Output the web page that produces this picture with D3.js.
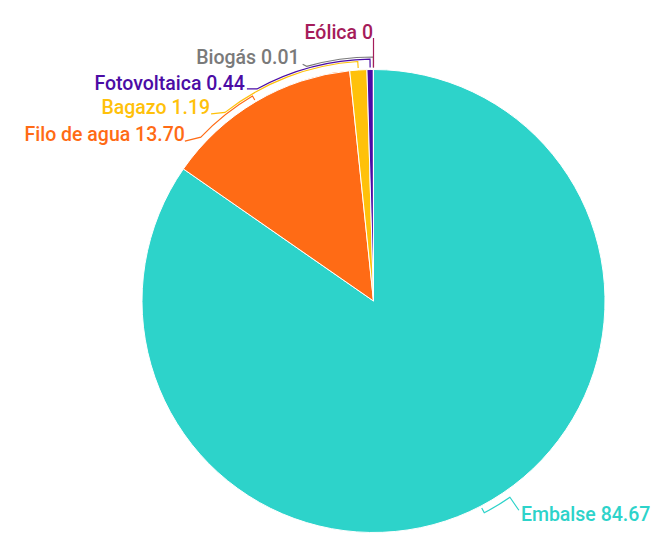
<!DOCTYPE html>
<html><head><meta charset="utf-8">
<script src="https://cdn.jsdelivr.net/npm/d3@7"></script>
<style>html,body{margin:0;padding:0;background:#fff;}svg{display:block;}</style>
</head><body>
<svg id="chart" width="664" height="540"></svg>
<script>
// ---- data ----
const categories = ["Embalse", "Filo de agua", "Bagazo", "Fotovoltaica", "Biogás", "Eólica"];
const values = [84.67, 13.70, 1.19, 0.44, 0.01, 0];
const colors = ["#2dd3ca", "#ff6b15", "#ffc10a", "#4b0ca5", "#7a7a7a", "#a51c5a"];

// ---- label layout (connector geometry, not data) ----
const labelLayout = [
  {endDeg: 145.2, rOff: 7.5, adx: 9,   ady: 13,  tdx: 2,  tdy: 11, anchor: "start"},
  {endDeg: 313.5, rOff: 6.5, adx: -16, ady: 4,   tdx: 0,  tdy: 0,  anchor: "end"},
  {endDeg: 321.8, rOff: 8.5, adx: -14, ady: 1.5, tdx: -1, tdy: 0,  anchor: "end"},
  {endDeg: 331.2, rOff: 10.5, adx: -10, ady: 0,  tdx: -2, tdy: 0.7, anchor: "end"},
  {endDeg: 344.1, rOff: 12.5, adx: -4, ady: -2,  tdx: -3, tdy: -0.5, anchor: "end"},
  {endDeg: 360,   rOff: 8.5, adx: 0,   ady: -23, tdx: -0.5, tdy: 1, anchor: "end"}
];

const fmt = v => v === 0 ? "0" : d3.format(".2f")(v);

const svg = d3.select("#chart");
const cx = 373.5, cy = 301, R = 231.5;
const g = svg.append("g").attr("transform", `translate(${cx},${cy})`);

const data = categories.map((c, i) => ({name: c, value: values[i], color: colors[i], layout: labelLayout[i]}));
const pie = d3.pie().sort(null).value(d => d.value).startAngle(0).endAngle(2 * Math.PI);
const arcs = pie(data);
const arcGen = d3.arc().innerRadius(0).outerRadius(R);

g.selectAll("path.slice").data(arcs).join("path")
  .attr("class", "slice")
  .attr("d", arcGen)
  .attr("fill", d => d.data.color)
  .attr("stroke", "#fff")
  .attr("stroke-width", 1);

const polar = (r, a) => [r * Math.sin(a), -r * Math.cos(a)];

arcs.forEach(d => {
  const L = d.data.layout;
  const mid = (d.startAngle + d.endAngle) / 2;
  const end = L.endDeg * Math.PI / 180;
  const rArc = R + L.rOff;
  const p = d3.path();
  const p0 = polar(R + 2, mid);
  p.moveTo(p0[0], p0[1]);
  const p1 = polar(rArc, mid);
  p.lineTo(p1[0], p1[1]);
  if (Math.abs(end - mid) > 1e-6) {
    p.arc(0, 0, rArc, mid - Math.PI / 2, end - Math.PI / 2, end < mid);
  }
  const pe = polar(rArc, end);
  const ax = pe[0] + L.adx, ay = pe[1] + L.ady;
  p.lineTo(ax, ay);
  g.append("path")
    .attr("d", p.toString())
    .attr("fill", "none")
    .attr("stroke", d.data.color)
    .attr("stroke-width", 1.2);
  g.append("text")
    .attr("x", ax + L.tdx)
    .attr("y", ay + L.tdy)
    .attr("text-anchor", L.anchor)
    .attr("fill", d.data.color)
    .style("font-family", "Roboto, sans-serif")
    .style("font-size", "19.5px")
    .style("font-weight", 500)
    .text(`${d.data.name} ${fmt(d.data.value)}`);
});
</script>
</body></html>
